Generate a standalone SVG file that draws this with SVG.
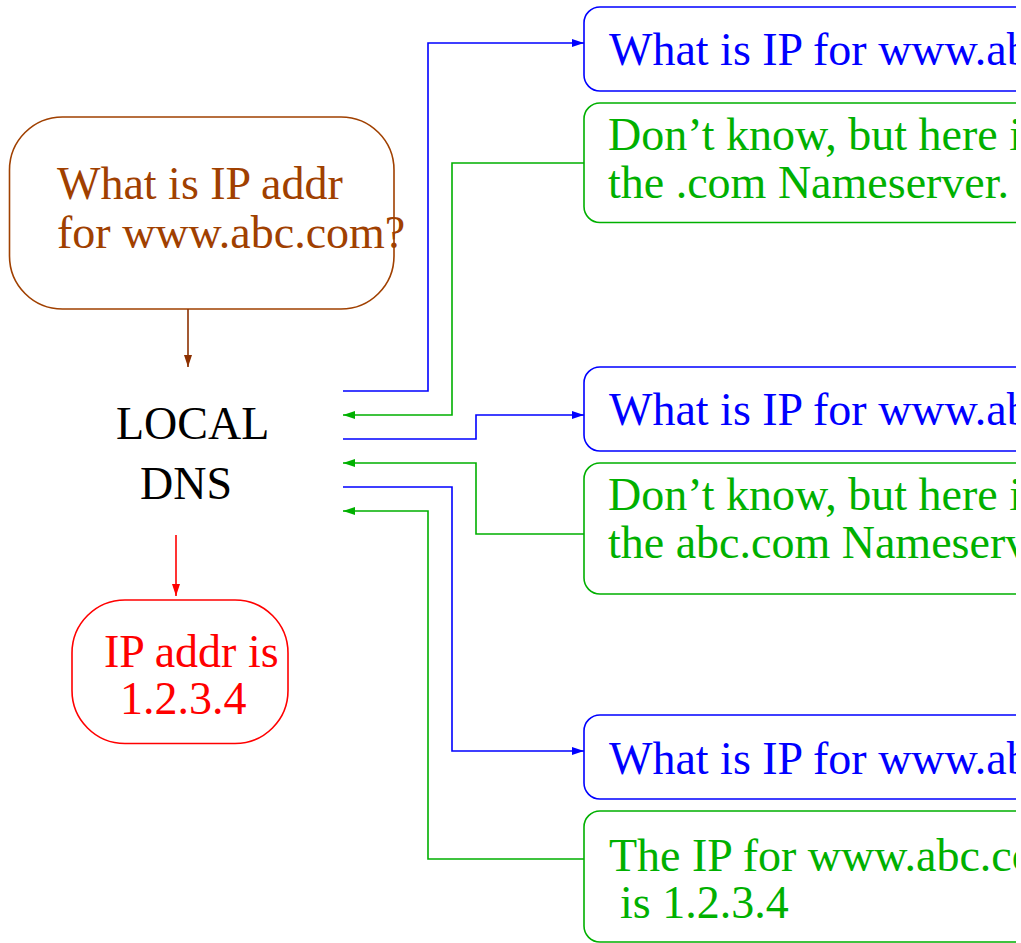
<svg xmlns="http://www.w3.org/2000/svg" width="1021" height="943" viewBox="0 0 1021 943">
  <defs>
    <style>
      text { font-family: "Liberation Serif", "Times New Roman", serif; font-size: 46px; }
      .box { fill: none; stroke-width: 1.6; }
      .wire { fill: none; stroke-width: 1.6; }
      .brown { stroke: #A04000; }
      .brownT { fill: #A04000; }
      .blue { stroke: #0000FF; }
      .blueT { fill: #0000FF; }
      .green { stroke: #00B000; }
      .greenT { fill: #00B000; }
      .red { stroke: #FF0000; }
      .redT { fill: #FF0000; }
    </style>
    <marker id="ahBlue" markerUnits="userSpaceOnUse" markerWidth="14" markerHeight="10" refX="12" refY="4.5" orient="auto">
      <path d="M0,0.5 L12,4.5 L0,8.5 Z" fill="#0000FF"/>
    </marker>
    <marker id="ahGreen" markerUnits="userSpaceOnUse" markerWidth="14" markerHeight="10" refX="12" refY="4.5" orient="auto">
      <path d="M0,0.5 L12,4.5 L0,8.5 Z" fill="#00B000"/>
    </marker>
    <marker id="ahBrown" markerUnits="userSpaceOnUse" markerWidth="14" markerHeight="10" refX="12" refY="4.5" orient="auto">
      <path d="M0,0.5 L12,4.5 L0,8.5 Z" fill="#8C3000"/>
    </marker>
    <marker id="ahRed" markerUnits="userSpaceOnUse" markerWidth="14" markerHeight="10" refX="12" refY="4.5" orient="auto">
      <path d="M0,0.5 L12,4.5 L0,8.5 Z" fill="#FF0000"/>
    </marker>
    <!-- the server column is cut off at the right edge of the sheet -->
    <clipPath id="sheet">
      <rect x="0" y="0" width="1016" height="943"/>
    </clipPath>
  </defs>

  <rect width="1021" height="943" fill="#FFFFFF"/>

  <!-- client question -->
  <g id="query">
    <rect class="box brown" x="9.5" y="117" width="384.5" height="192" rx="53" ry="53"/>
    <text class="brownT" x="57" y="199">What is IP addr</text>
    <text class="brownT" x="57" y="248">for www.abc.com?</text>
  </g>

  <!-- local resolver -->
  <g id="local-dns">
    <text x="116" y="439">LOCAL</text>
    <text x="140" y="499">DNS</text>
  </g>

  <!-- final answer -->
  <g id="answer">
    <rect class="box red" x="72" y="600" width="216" height="143.5" rx="53" ry="53"/>
    <text class="redT" x="104" y="667">IP addr is</text>
    <text class="redT" x="120" y="714">1.2.3.4</text>
  </g>

  <g clip-path="url(#sheet)">
    <g id="ask-root">
      <rect class="box blue" x="584" y="7" width="520" height="84" rx="16" ry="16"/>
      <text class="blueT" x="609" y="65">What is IP for www.ab</text>
    </g>
    <g id="reply-root">
      <rect class="box green" x="584" y="103" width="520" height="119.5" rx="16" ry="16"/>
      <text class="greenT" x="608" y="150">Don’t know, but here i</text>
      <text class="greenT" x="608" y="198">the .com Nameserver.</text>
    </g>
    <g id="ask-com">
      <rect class="box blue" x="584" y="367" width="520" height="84" rx="16" ry="16"/>
      <text class="blueT" x="609" y="425">What is IP for www.ab</text>
    </g>
    <g id="reply-com">
      <rect class="box green" x="584" y="463" width="520" height="131" rx="16" ry="16"/>
      <text class="greenT" x="608" y="510">Don’t know, but here i</text>
      <text class="greenT" x="608" y="558">the abc.com Nameserv</text>
    </g>
    <g id="ask-abc">
      <rect class="box blue" x="584" y="715" width="520" height="84" rx="16" ry="16"/>
      <text class="blueT" x="609" y="774">What is IP for www.ab</text>
    </g>
    <g id="reply-abc">
      <rect class="box green" x="584" y="811" width="520" height="131" rx="16" ry="16"/>
      <text class="greenT" x="609" y="871">The IP for www.abc.co</text>
      <text class="greenT" x="620" y="918">is 1.2.3.4</text>
    </g>
  </g>

  <!-- message flow -->
  <g id="connectors">
    <path class="wire" stroke="#8C3000" d="M188,309 V367" marker-end="url(#ahBrown)"/>
    <path class="wire red" d="M176,535 V596" marker-end="url(#ahRed)"/>

    <path class="wire blue" d="M343,391 H428 V43 H584" marker-end="url(#ahBlue)"/>
    <path class="wire green" d="M584,163 H452 V415 H343" marker-end="url(#ahGreen)"/>
    <path class="wire blue" d="M343,439 H476 V415 H584" marker-end="url(#ahBlue)"/>
    <path class="wire green" d="M584,534 H476 V463 H343" marker-end="url(#ahGreen)"/>
    <path class="wire blue" d="M343,487 H452 V751 H584" marker-end="url(#ahBlue)"/>
    <path class="wire green" d="M584,859 H428 V511 H343" marker-end="url(#ahGreen)"/>
  </g>
</svg>
